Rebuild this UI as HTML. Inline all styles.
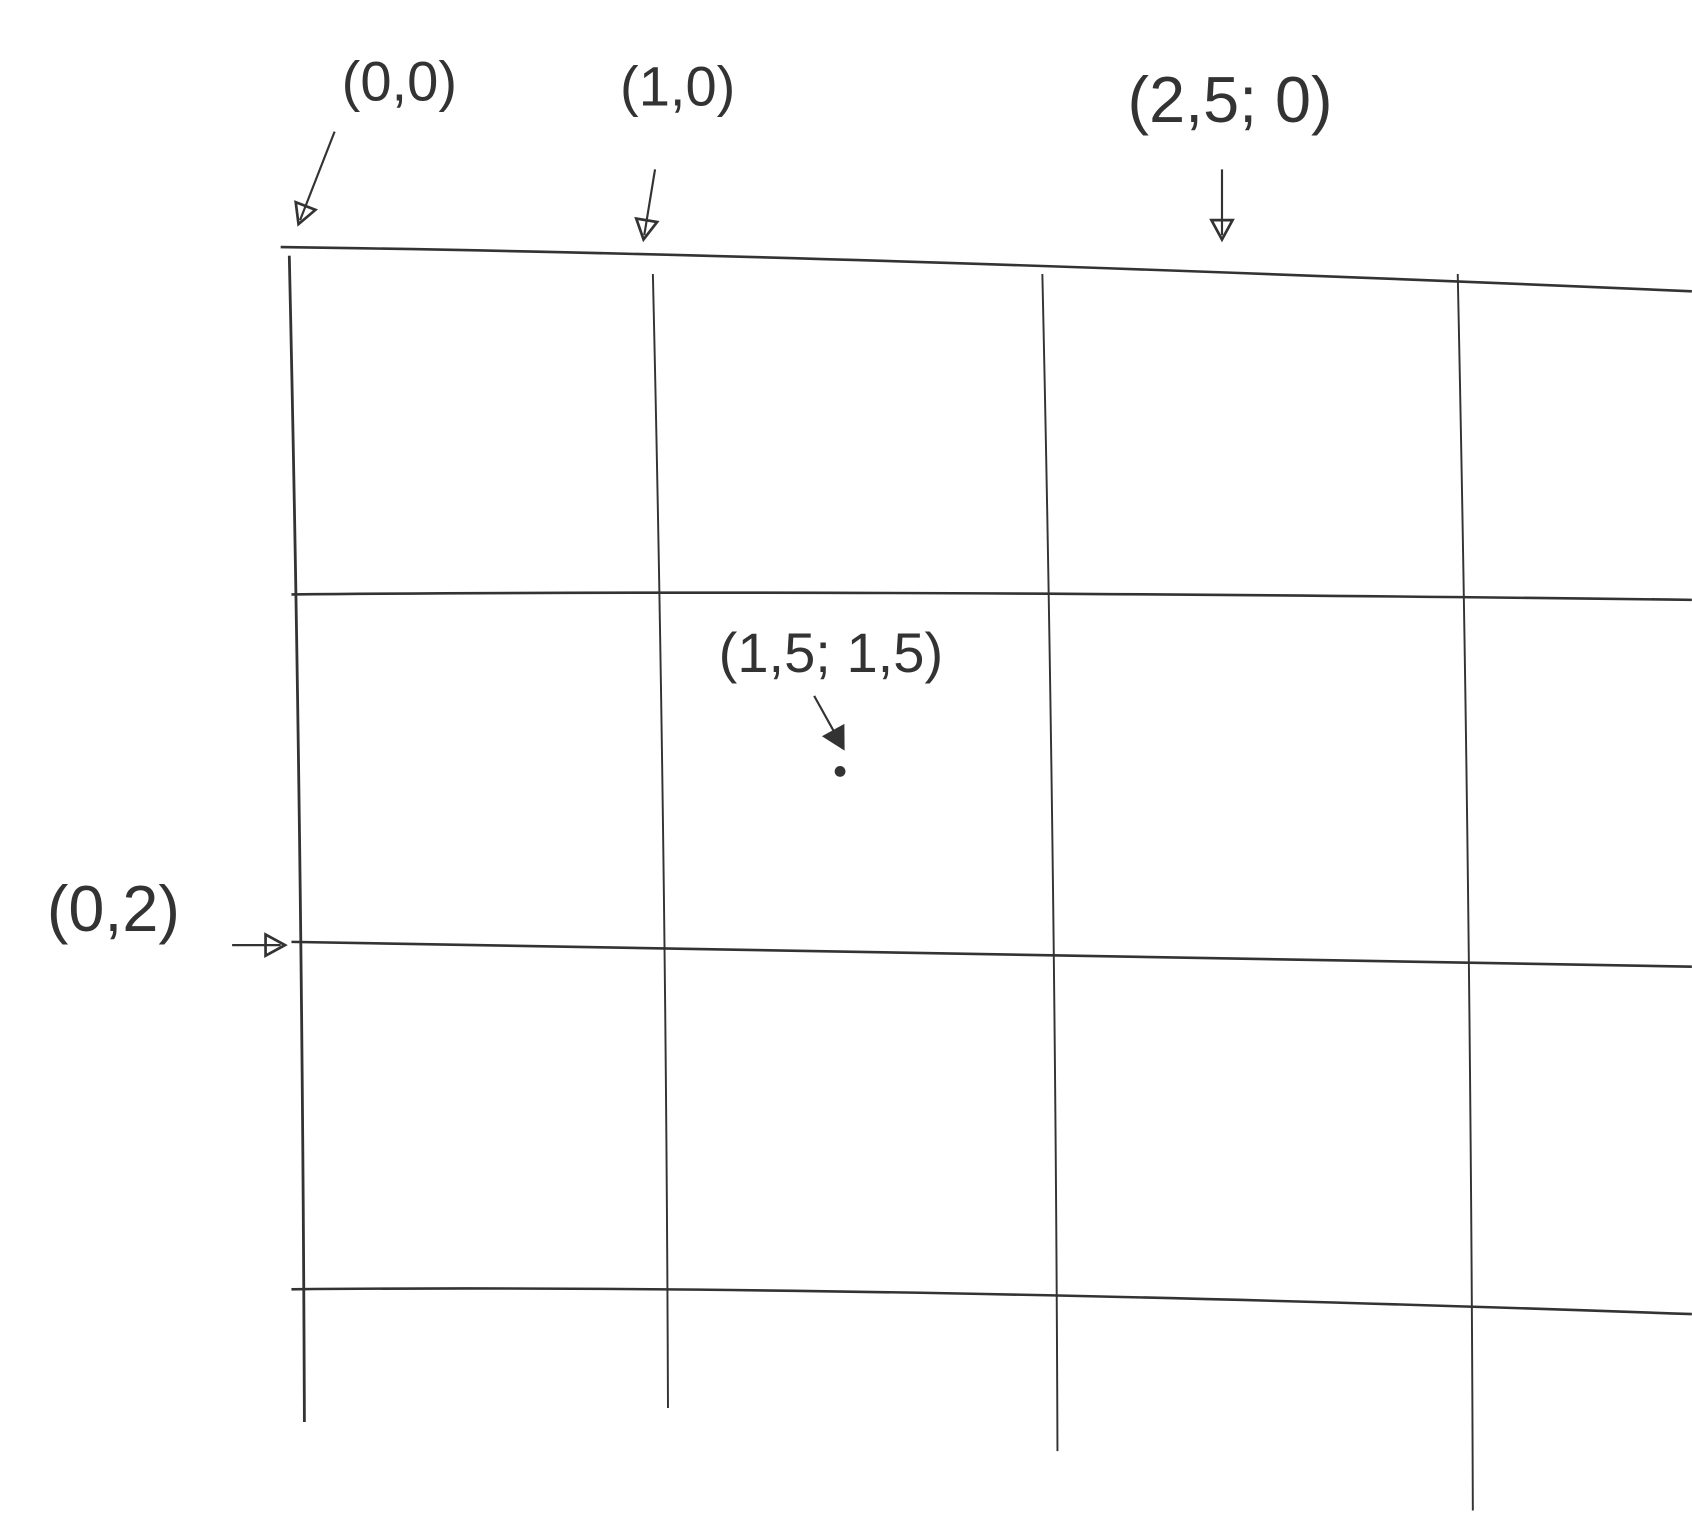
<!DOCTYPE html>
<html><head><meta charset="utf-8"><style>
html,body{margin:0;padding:0;background:#fff;}
svg{display:block}
text{font-family:"Liberation Sans",sans-serif;fill:#333;font-weight:300}
</style></head><body>
<svg id="c" width="1692" height="1518" viewBox="0 0 1568 1407" xmlns="http://www.w3.org/2000/svg"></svg>
<script>
const xTicks=[0,1,2,3];
const yTicks=[0,1,2,3];
const pointLabels=["(0,0)","(1,0)","(2,5; 0)","(1,5;   1,5)","(0,2)"];
const pointX=[0,1,2.5,1.5,0];
const pointY=[0,0,0,1.5,2];
const NS="http://www.w3.org/2000/svg";
const svg=document.getElementById('c');
function x(v){return 270+325*v+12*v*v;}
function y(v){return 232+v*322;}
function el(t,a){const e=document.createElementNS(NS,t);for(const k in a)e.setAttribute(k,a[k]);svg.appendChild(e);return e;}
// horizontal lines
yTicks.forEach((v,i)=>{
  const l=el('path',{d:`M${x(0)-10+(i?10:0)},${y(v)-3} Q${x(1.5)},${y(v)+(i%2?-8:4)} 1568,${y(v)+(i==1?2:i==0?38:20)}`,stroke:'#333','stroke-width':2.4,fill:'none'});
  
  
});
// vertical lines
const bottoms=[1318,1305,1345,1400];
xTicks.forEach((v,i)=>{
  const l=el('path',{d:`M${x(v)-2},${y(0)+(i?22:5)} Q${x(v)+10},${(y(0)+bottoms[i])/2} ${x(v)+12},${bottoms[i]}`,stroke:'#333','stroke-width':i?1.8:2.6,fill:'none'});
  
  
});
// annotations
const labelPos=[[370,75],[628,80],[1140,95],[770,605],[105,845]];
pointLabels.forEach((t,i)=>{
  const px=x(pointX[i]),py=y(pointY[i]);
  let tipX=px,tipY=py-14,fx=px,fy=py-75;
  if(i==0){tipX=px+8;tipY=py-28;fx=px+40;fy=py-110;}
  if(i==1){tipX=px-10;}
  if(i==2){tipX=px-25;fx=px-25;}
  if(i==3){tipX=px-5;tipY=py-25;fx=px-30;fy=py-70;}
  if(i==4){tipX=px-10;tipY=py;fx=px-55;fy=py;}
  const g=el('g',{});
  
  
  const ln=document.createElementNS(NS,'line');
  [['x1',fx],['y1',fy],['x2',tipX],['y2',tipY],['stroke','#333'],['stroke-width',2]].forEach(a=>ln.setAttribute(a[0],a[1]));
  g.appendChild(ln);
  const ang=Math.atan2(tipY-fy,tipX-fx);
  const s=14,p1=[tipX+Math.cos(ang)*4,tipY+Math.sin(ang)*4];
  const b1=[tipX-Math.cos(ang)*s+Math.sin(ang)*s*0.7,tipY-Math.sin(ang)*s-Math.cos(ang)*s*0.7];
  const b2=[tipX-Math.cos(ang)*s-Math.sin(ang)*s*0.7,tipY-Math.sin(ang)*s+Math.cos(ang)*s*0.7];
  const tri=document.createElementNS(NS,'polygon');
  tri.setAttribute('points',`${p1} ${b1} ${b2}`);
  tri.setAttribute('fill',i==3?'#333':'none');tri.setAttribute('stroke','#333');tri.setAttribute('stroke-width',2.5);
  g.appendChild(tri);
  const tx=document.createElementNS(NS,'text');
  tx.setAttribute('x',labelPos[i][0]);tx.setAttribute('y',labelPos[i][1]+18);
  tx.setAttribute('text-anchor','middle');tx.setAttribute('font-size',i==2||i==4?60:52);
  tx.textContent=t;
  
  
  g.appendChild(tx);
  svg.appendChild(g);
  if(i==3){const d=el('circle',{cx:px-6,cy:py,r:5,fill:'#333'});
    
    }
});
</script>
</body></html>
